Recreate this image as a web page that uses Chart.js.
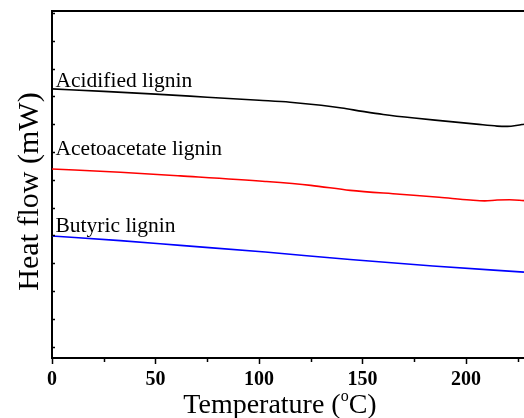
<!DOCTYPE html>
<html>
<head>
<meta charset="utf-8">
<script src="https://cdn.jsdelivr.net/npm/chart.js@4/dist/chart.umd.min.js"></script>
<style>
  html, body { margin: 0; padding: 0; background: #fff; }
  #wrap { width: 524px; height: 418px; }
</style>
</head>
<body>
<div id="wrap"><canvas id="dsc" width="524" height="418"></canvas></div>
<script>
// DSC curves: temperature (°C) vs heat flow (arbitrary mW offset units)
const acidT = [0, 25, 50, 75, 100, 115, 130, 140, 150, 160, 175, 190, 205, 215, 220, 225, 228];
const acidV = [9.27, 9.18, 9.08, 8.97, 8.86, 8.79, 8.68, 8.58, 8.46, 8.35, 8.22, 8.11, 8.00, 7.93, 7.92, 7.96, 8.00];

const acetoT = [0, 33, 62, 103, 125, 144, 168, 187, 202, 209, 215, 221, 228];
const acetoV = [6.39, 6.27, 6.14, 5.94, 5.80, 5.62, 5.48, 5.37, 5.27, 5.24, 5.27, 5.28, 5.25];

const butyT = [0, 33, 62, 103, 144, 184, 228];
const butyV = [3.98, 3.81, 3.64, 3.40, 3.13, 2.90, 2.68];

const seriesNames = ['Acidified lignin', 'Acetoacetate lignin', 'Butyric lignin'];
const xMajorTicks = [0, 50, 100, 150, 200];
const xMinorTicks = [25, 75, 125, 175, 225];
const yTicks = [0, 1, 2, 3, 4, 5, 6, 7, 8, 9, 10, 11, 12];

const SERIF = '"Liberation Serif", "Times New Roman", serif';

function pts(xs, ys) { return xs.map((t, i) => ({ x: t, y: ys[i] })); }

// label anchors in data units (temperature, heat flow) for the curve names
const nameAnchors = [[1.7, 9.34], [1.7, 6.90], [1.7, 4.12]];

const decorations = {
  id: 'decorations',
  afterDraw(chart) {
    const { ctx, chartArea: a, scales: { x, y } } = chart;
    ctx.save();
    ctx.strokeStyle = '#000';
    ctx.lineCap = 'butt';

    // top frame line
    ctx.lineWidth = 2;
    ctx.beginPath();
    ctx.moveTo(a.left - 1, a.top);
    ctx.lineTo(a.right, a.top);
    ctx.stroke();

    // minor x ticks (outward)
    ctx.lineWidth = 1.5;
    xMinorTicks.forEach(v => {
      const px = Math.round(x.getPixelForValue(v)) + 0.5;
      ctx.beginPath();
      ctx.moveTo(px, a.bottom);
      ctx.lineTo(px, a.bottom + 4);
      ctx.stroke();
    });

    // y ticks (inward)
    yTicks.forEach(v => {
      const py = Math.round(y.getPixelForValue(v)) + 0.5;
      ctx.beginPath();
      ctx.moveTo(a.left, py);
      ctx.lineTo(a.left + 3, py);
      ctx.stroke();
    });

    // curve names
    ctx.fillStyle = '#000';
    ctx.font = '21.5px ' + SERIF;
    ctx.textAlign = 'left';
    ctx.textBaseline = 'alphabetic';
    seriesNames.forEach((name, i) => {
      const [t, v] = nameAnchors[i];
      ctx.fillText(name, x.getPixelForValue(t), y.getPixelForValue(v));
    });

    // x axis title with superscript o
    const big = '28px ' + SERIF, small = '16px ' + SERIF;
    const part1 = 'Temperature (', part2 = 'o', part3 = 'C)';
    ctx.font = big;
    const w1 = ctx.measureText(part1).width;
    const w3 = ctx.measureText(part3).width;
    ctx.font = small;
    const w2 = ctx.measureText(part2).width;
    const total = w1 + w2 + w3;
    const base = 413;
    let sx = 280 - total / 2;
    ctx.font = big;
    ctx.fillText(part1, sx, base);
    sx += w1;
    ctx.font = small;
    ctx.fillText(part2, sx, base - 12);
    sx += w2;
    ctx.font = big;
    ctx.fillText(part3, sx, base);

    // y axis title
    ctx.save();
    ctx.translate(38, 191.5);
    ctx.rotate(-Math.PI / 2);
    ctx.font = '30px ' + SERIF;
    ctx.textAlign = 'center';
    ctx.fillText('Heat flow (mW)', 0, 0);
    ctx.restore();

    ctx.restore();
  }
};

new Chart(document.getElementById('dsc'), {
  type: 'line',
  data: {
    datasets: [
      { label: seriesNames[0], data: pts(acidT, acidV), borderColor: '#000000' },
      { label: seriesNames[1], data: pts(acetoT, acetoV), borderColor: '#ff0000' },
      { label: seriesNames[2], data: pts(butyT, butyV), borderColor: '#0000ff' }
    ]
  },
  options: {
    responsive: false,
    animation: false,
    devicePixelRatio: 1,
    layout: { padding: { top: 11, right: 0, bottom: 0, left: 0 } },
    elements: {
      line: { borderWidth: 1.6, cubicInterpolationMode: 'monotone', fill: false },
      point: { radius: 0, hoverRadius: 0 }
    },
    plugins: { legend: { display: false }, tooltip: { enabled: false }, title: { display: false } },
    scales: {
      x: {
        type: 'linear',
        min: 0,
        max: 228,
        afterFit(s) { s.height = 60; },
        afterBuildTicks(s) { s.ticks = xMajorTicks.map(v => ({ value: v })); },
        grid: { display: true, drawOnChartArea: false, drawTicks: true, tickLength: 6, tickColor: '#000', tickWidth: 1.5 },
        border: { display: true, color: '#000', width: 2 },
        ticks: {
          color: '#000',
          padding: 4,
          maxRotation: 0,
          autoSkip: false,
          font: { family: SERIF, size: 20, weight: 'bold' }
        }
      },
      y: {
        type: 'linear',
        min: -0.41,
        max: 12.07,
        afterFit(s) { s.width = 52; },
        grid: { display: false },
        border: { display: true, color: '#000', width: 2 },
        ticks: { display: false }
      }
    }
  },
  plugins: [decorations]
});
</script>
</body>
</html>
